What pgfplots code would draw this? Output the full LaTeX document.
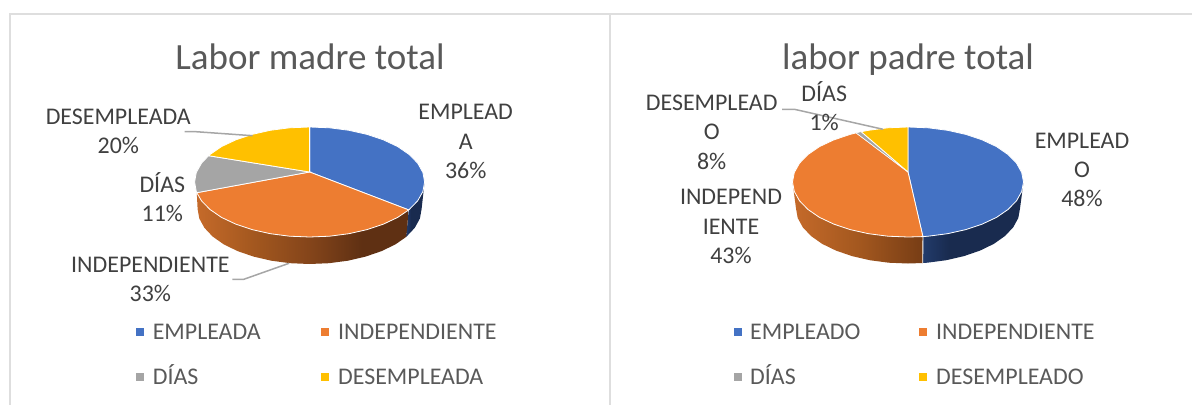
\documentclass[border=0pt]{standalone}
\usepackage{pgfplots}
\pgfplotsset{compat=1.18}
\usepackage{fontspec}
\setmainfont{Carlito}
\definecolor{cblue}{HTML}{4472C4}
\definecolor{corange}{HTML}{ED7D31}
\definecolor{cgray}{HTML}{A5A5A5}
\definecolor{cyellow}{HTML}{FFC000}
\definecolor{ctitle}{HTML}{595959}
\definecolor{clabel}{HTML}{404040}
\definecolor{cframe}{HTML}{DEDEDE}
\definecolor{clead}{HTML}{A6A6A6}
\definecolor{oa}{HTML}{C56A2A}
\definecolor{ob}{HTML}{A4581F}
\definecolor{oc}{HTML}{83441A}
\definecolor{od}{HTML}{5F3013}
\definecolor{oe}{HTML}{773D15}
\definecolor{na}{HTML}{223B6B}
\definecolor{nb}{HTML}{192B4F}
\pgfdeclarehorizontalshading{orangeL}{100bp}{color(0bp)=(oa); color(25bp)=(oa); color(38bp)=(ob); color(52bp)=(oc); color(64bp)=(od); color(75bp)=(od); color(100bp)=(od)}
\pgfdeclarehorizontalshading{orangeR}{100bp}{color(0bp)=(oa); color(25bp)=(oa); color(50bp)=(ob); color(75bp)=(oe); color(100bp)=(oe)}
\pgfdeclarehorizontalshading{navyR}{100bp}{color(0bp)=(na); color(25bp)=(na); color(38bp)=(nb); color(100bp)=(nb)}
\newcommand{\lbl}[3]{\node[anchor=base,text=clabel,font=\fontsize{23.9bp}{23.9bp}\selectfont,inner sep=0pt] at (axis cs:#1,#2) {#3};}
\newcommand{\lgd}[3]{\node[anchor=base west,text=ctitle,font=\fontsize{23.9bp}{23.9bp}\selectfont,inner sep=0pt] at (axis cs:#1,#2) {#3};}
\newcommand{\ttl}[3]{\node[anchor=base,text=ctitle,font=\fontsize{37bp}{37bp}\selectfont,inner sep=0pt] at (axis cs:#1,#2) {#3};}
\begin{document}
\begin{tikzpicture}
\begin{axis}[
  hide axis, scale only axis, width=1192bp, height=405bp,
  xmin=0, xmax=1192, ymin=0, ymax=405, y dir=reverse, clip=true,
  every axis plot/.append style={mark=none},
]
\path (axis cs:0,0) rectangle (axis cs:1192,405);
% frame
\addplot[draw=cframe, line width=2bp] coordinates {(10.3,405) (10.3,14.5) (1192,14.5)};
\addplot[draw=cframe, line width=2bp] coordinates {(610,14.5) (610,405)};

% ---- left pie walls
\addplot[draw=none, shading=navyR] coordinates {(424.6,182) (422.9,191.5) (417.7,200.8) (409.2,209.5) (408.7,209.9) (406.2,236.9) (406.6,236.5) (414.8,227.8) (419.9,218.5) (421.6,209)} -- cycle;
\addplot[draw=none, shading=orangeL] coordinates {(196.8,192.7) (201.5,200.8) (210,209.5) (221.5,217.4) (235.7,224.1) (252.1,229.6) (270.3,233.7) (289.6,236.2) (309.6,237) (329.6,236.2) (348.9,233.7) (367.1,229.6) (383.5,224.1) (397.7,217.4) (408.7,209.9) (406.2,236.9) (395.4,244.4) (381.6,251.1) (365.6,256.6) (347.9,260.7) (329,263.2) (309.6,264) (290.2,263.2) (271.3,260.7) (253.6,256.6) (237.6,251.1) (223.8,244.4) (212.6,236.5) (204.4,227.8) (199.3,218.5) (197.6,209)} -- cycle;
% ---- left pie top: EMPLEADA 36, INDEPENDIENTE 33, DIAS 11, DESEMPLEADA 20
\addplot[fill=cblue, draw=white, line width=0.8bp] coordinates {(309.6,172) (309.6,127) (329.6,127.8) (348.9,130.3) (367.1,134.4) (383.5,139.9) (397.7,146.6) (409.2,154.5) (417.7,163.2) (422.9,172.5) (424.6,182) (422.9,191.5) (417.7,200.8) (409.2,209.5) (408.7,209.9)} -- cycle;
\addplot[fill=corange, draw=white, line width=0.8bp] coordinates {(309.6,172) (408.7,209.9) (397.7,217.4) (383.5,224.1) (367.1,229.6) (348.9,233.7) (329.6,236.2) (309.6,237) (289.6,236.2) (270.3,233.7) (252.1,229.6) (235.7,224.1) (221.5,217.4) (210,209.5) (201.5,200.8) (196.8,192.7)} -- cycle;
\addplot[fill=cgray, draw=white, line width=0.8bp] coordinates {(309.6,172) (196.8,192.7) (196.3,191.5) (194.6,182) (196.3,172.5) (201.5,163.2) (208.6,155.7)} -- cycle;
\addplot[fill=cyellow, draw=white, line width=0.8bp] coordinates {(309.6,172) (208.6,155.7) (210,154.5) (221.5,146.6) (235.7,139.9) (252.1,134.4) (270.3,130.3) (289.6,127.8) (309.6,127)} -- cycle;
% leaders
\addplot[draw=clead, line width=1.5bp] coordinates {(184.5,131.7) (196,131.7) (252.6,135.7)};
\addplot[draw=clead, line width=1.5bp] coordinates {(232.3,279.3) (243.8,279.3) (289,263.3)};

% ---- right pie walls
\addplot[draw=none, shading=navyR] coordinates {(1023.5,182) (1021.7,191.5) (1016.5,200.8) (1008,209.5) (996.5,217.4) (982.2,224.1) (965.8,229.6) (947.5,233.7) (928.1,236.2) (922.9,236.6) (922.8,263) (927.4,262.7) (946.3,260.2) (964,256.1) (980,250.6) (993.8,243.9) (1005,236) (1013.2,227.3) (1018.3,218) (1020,208.5)} -- cycle;
\addplot[draw=none, shading=orangeR] coordinates {(792.5,182) (794.3,191.5) (799.5,200.8) (808,209.5) (819.5,217.4) (833.8,224.1) (850.2,229.6) (868.5,233.7) (887.9,236.2) (908,237) (922.9,236.6) (922.8,263) (908,263.5) (888.6,262.7) (869.7,260.2) (852,256.1) (836,250.6) (822.2,243.9) (811,236) (802.8,227.3) (797.7,218) (796,208.5)} -- cycle;
\addplot[draw=white, line width=0.8bp] coordinates {(922.9,236.6) (922.8,263)};
% ---- right pie top: EMPLEADO 48, INDEPENDIENTE 43, DIAS 1, DESEMPLEADO 8
\addplot[fill=cblue, draw=white, line width=0.8bp] coordinates {(908,172) (908,127) (928.1,127.8) (947.5,130.3) (965.8,134.4) (982.2,139.9) (996.5,146.6) (1008,154.5) (1016.5,163.2) (1021.7,172.5) (1023.5,182) (1021.7,191.5) (1016.5,200.8) (1008,209.5) (996.5,217.4) (982.2,224.1) (965.8,229.6) (947.5,233.7) (928.1,236.2) (922.9,236.6)} -- cycle;
\addplot[fill=corange, draw=white, line width=0.8bp] coordinates {(908,172) (922.9,236.6) (908,237) (887.9,236.2) (868.5,233.7) (850.2,229.6) (833.8,224.1) (819.5,217.4) (808,209.5) (799.5,200.8) (794.3,191.5) (792.5,182) (794.3,172.5) (799.5,163.2) (808,154.5) (819.5,146.6) (833.8,139.9) (850.2,134.4) (856.1,132.9)} -- cycle;
\addplot[fill=cgray, draw=white, line width=0.5bp] coordinates {(908,172) (856.1,132.9) (861.2,131.7)} -- cycle;
\addplot[fill=cyellow, draw=white, line width=0.8bp] coordinates {(908,172) (861.2,131.7) (868.5,130.3) (887.9,127.8) (908,127)} -- cycle;
% leader
\addplot[draw=clead, line width=1.5bp] coordinates {(782,109.3) (794.4,109.3) (883.1,129.3)};

% legend swatches
\addplot[fill=cblue, draw=none] coordinates {(135.6,328.3) (143.6,328.3) (143.6,336.3) (135.6,336.3)} -- cycle;
\addplot[fill=corange, draw=none] coordinates {(321,328.3) (329,328.3) (329,336.3) (321,336.3)} -- cycle;
\addplot[fill=cgray, draw=none] coordinates {(135.6,373.3) (143.6,373.3) (143.6,381.3) (135.6,381.3)} -- cycle;
\addplot[fill=cyellow, draw=none] coordinates {(321,373.3) (329,373.3) (329,381.3) (321,381.3)} -- cycle;
\addplot[fill=cblue, draw=none] coordinates {(733.5,328.3) (741.5,328.3) (741.5,336.3) (733.5,336.3)} -- cycle;
\addplot[fill=corange, draw=none] coordinates {(919,328.3) (927,328.3) (927,336.3) (919,336.3)} -- cycle;
\addplot[fill=cgray, draw=none] coordinates {(733.5,373.3) (741.5,373.3) (741.5,381.3) (733.5,381.3)} -- cycle;
\addplot[fill=cyellow, draw=none] coordinates {(919,373.3) (927,373.3) (927,381.3) (919,381.3)} -- cycle;

% titles
\ttl{310}{69.5}{Labor madre total}
\ttl{908}{69.5}{labor padre total}
% left labels
\lbl{465.7}{119.5}{EMPLEAD}
\lbl{465.7}{149}{A}
\lbl{465.7}{178.5}{36\%}
\lbl{118.3}{124.5}{DESEMPLEADA}
\lbl{118.3}{153.5}{20\%}
\lbl{162.3}{192}{DÍAS}
\lbl{162.3}{221}{11\%}
\lbl{150.4}{272.5}{INDEPENDIENTE}
\lbl{150.4}{301.5}{33\%}
% right labels
\lbl{711.7}{110}{DESEMPLEAD}
\lbl{711.7}{139.5}{O}
\lbl{711.7}{169}{8\%}
\lbl{824.2}{101}{DÍAS}
\lbl{824.2}{130.5}{1\%}
\lbl{1082}{148}{EMPLEAD}
\lbl{1082}{177.5}{O}
\lbl{1082}{206.5}{48\%}
\lbl{731}{204.5}{INDEPEND}
\lbl{731}{234}{IENTE}
\lbl{731}{263.5}{43\%}
% legends
\lgd{152.6}{339.5}{EMPLEADA}
\lgd{338}{339.5}{INDEPENDIENTE}
\lgd{152.6}{384.5}{DÍAS}
\lgd{338}{384.5}{DESEMPLEADA}
\lgd{750}{339.5}{EMPLEADO}
\lgd{936}{339.5}{INDEPENDIENTE}
\lgd{750}{384.5}{DÍAS}
\lgd{936}{384.5}{DESEMPLEADO}
\end{axis}
\end{tikzpicture}
\end{document}
